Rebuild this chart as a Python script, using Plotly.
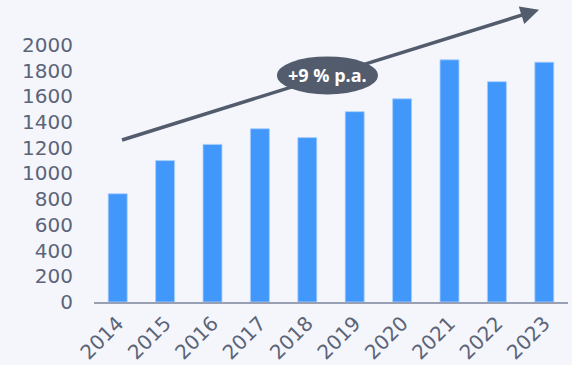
import plotly.graph_objects as go

years = ["2014", "2015", "2016", "2017", "2018", "2019", "2020", "2021", "2022", "2023"]
values = [842, 1100, 1226, 1348, 1279, 1481, 1581, 1884, 1714, 1866]
y_ticks = [0, 200, 400, 600, 800, 1000, 1200, 1400, 1600, 1800, 2000]
trend_label = "+9 % p.a."
trend_start = [0.06, 1257]
trend_end = [8.89, 2274]
label_box = [3.36, 5.49, 1615, 1911]

BG = "#F5F6FB"
BAR = "#4298FA"
DARK = "#525C6D"
TXT = "#5B6478"

fig = go.Figure()
fig.add_trace(go.Bar(
    x=years, y=values, width=0.4,
    marker=dict(color=BAR, line=dict(color="#A8CEFF", width=0.8)),
    hoverinfo="skip",
))

fig.add_annotation(
    x=trend_end[0], y=trend_end[1], ax=trend_start[0], ay=trend_start[1],
    xref="x", yref="y", axref="x", ayref="y",
    text="", showarrow=True, arrowhead=2, arrowsize=1.05, arrowwidth=3.5,
    arrowcolor=DARK,
)
fig.add_shape(type="circle", xref="x", yref="y",
              x0=label_box[0], x1=label_box[1], y0=label_box[2], y1=label_box[3],
              fillcolor=DARK, line=dict(width=0), layer="above")
fig.add_annotation(
    x=(label_box[0] + label_box[1]) / 2, y=(label_box[2] + label_box[3]) / 2,
    xref="x", yref="y", text="<b>" + trend_label + "</b>", showarrow=False,
    font=dict(family="Open Sans", size=18, color="white"),
)

fig.update_layout(
    width=572, height=365,
    margin=dict(l=94, r=4, t=6, b=63),
    paper_bgcolor=BG, plot_bgcolor=BG,
    showlegend=False,
    font=dict(family="DejaVu Sans", size=20, color=TXT),
    bargap=0.6,
)
fig.update_xaxes(
    type="category", tickangle=-45, showgrid=False, automargin=False,
    showline=True, linecolor="#9AA0B4", linewidth=1.5,
    ticks="", ticklabelstandoff=0,
    tickfont=dict(family="DejaVu Sans", size=20, color=TXT),
)
fig.update_yaxes(
    range=[0, 2303], tickvals=y_ticks, showgrid=False, zeroline=False,
    showline=False, ticks="", ticklabelstandoff=20, automargin=False,
    tickfont=dict(family="DejaVu Sans", size=20, color=TXT),
)

fig.write_html("out.html")
